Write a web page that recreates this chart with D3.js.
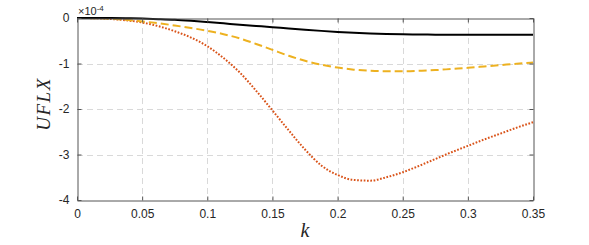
<!DOCTYPE html>
<html><head><meta charset="utf-8">
<script src="https://cdn.jsdelivr.net/npm/d3@7"></script>
<style>
html,body{margin:0;padding:0;background:#fff;}
svg{display:block;}
</style></head>
<body>
<svg id="chart" width="589" height="245"></svg>
<script>
const kValues = [0, 0.0125, 0.025, 0.0375, 0.05, 0.0625, 0.075, 0.0875, 0.1, 0.1125, 0.125, 0.1375, 0.15, 0.1625, 0.175, 0.1875, 0.2, 0.2125, 0.225, 0.2375, 0.25, 0.2625, 0.275, 0.2875, 0.3, 0.3125, 0.325, 0.3375, 0.35];
const blackSeries = [0, 0, -0.002, -0.006, -0.013, -0.025, -0.04, -0.063, -0.09, -0.118, -0.147, -0.175, -0.202, -0.23, -0.257, -0.283, -0.306, -0.325, -0.34, -0.351, -0.358, -0.363, -0.366, -0.368, -0.369, -0.37, -0.37, -0.37, -0.37];
const yellowSeries = [0, -0.003, -0.015, -0.04, -0.075, -0.115, -0.165, -0.22, -0.28, -0.355, -0.45, -0.57, -0.7, -0.83, -0.94, -1.025, -1.09, -1.135, -1.16, -1.17, -1.17, -1.16, -1.145, -1.12, -1.095, -1.065, -1.035, -1.005, -0.98];
const redSeries = [0, -0.005, -0.02, -0.05, -0.10, -0.18, -0.29, -0.43, -0.62, -0.88, -1.20, -1.60, -2.03, -2.47, -2.89, -3.24, -3.45, -3.56, -3.575, -3.50, -3.39, -3.25, -3.10, -2.95, -2.81, -2.67, -2.54, -2.41, -2.29];
const xTicks = [0, 0.05, 0.1, 0.15, 0.2, 0.25, 0.3, 0.35];
const xTickLabels = ["0", "0.05", "0.1", "0.15", "0.2", "0.25", "0.3", "0.35"];
const yTicks = [0, -1, -2, -3, -4];
const yTickLabels = ["0", "-1", "-2", "-3", "-4"];

const mLeft = 77, mRight = 533, mTop = 18, mBottom = 200;
const svg = d3.select("#chart");
const x = d3.scaleLinear().domain([0, 0.35]).range([mLeft, mRight]);
const y = d3.scaleLinear().domain([-4, 0]).range([mBottom, mTop]);

// grid
const grid = svg.append("g").attr("stroke", "#d9d9d9").attr("stroke-width", 1).attr("stroke-dasharray", "6,4").attr("fill", "none");
xTicks.slice(1, -1).forEach(t => {
  grid.append("line").attr("x1", Math.round(x(t)) + 0.5).attr("x2", Math.round(x(t)) + 0.5).attr("y1", mTop).attr("y2", mBottom);
});
yTicks.slice(1, -1).forEach(t => {
  grid.append("line").attr("y1", Math.round(y(t)) + 0.5).attr("y2", Math.round(y(t)) + 0.5).attr("x1", mLeft).attr("x2", mRight);
});

// series
const line = d3.line().x((d, i) => x(kValues[i])).y(d => y(d)).curve(d3.curveMonotoneX);
const plot = svg.append("g");
plot.append("path").datum(redSeries).attr("d", line).attr("fill", "none").attr("stroke", "#D95319").attr("stroke-width", 2).attr("stroke-dasharray", "1.7,1.6");
plot.append("path").datum(yellowSeries).attr("d", line).attr("fill", "none").attr("stroke", "#EDB120").attr("stroke-width", 2).attr("stroke-dasharray", "8,4");
plot.append("path").datum(blackSeries).attr("d", line).attr("fill", "none").attr("stroke", "#000").attr("stroke-width", 2);

// axes
const axColor = "#555";
const fontFam = "'Liberation Sans', Arial, Helvetica, sans-serif";
const xAxis = d3.axisBottom(x).tickValues(xTicks).tickFormat((d, i) => xTickLabels[i]).tickSizeInner(-4).tickSizeOuter(0).tickPadding(9);
const gx = svg.append("g").attr("transform", `translate(0,${mBottom + 0.5})`).call(xAxis);
const xTop = d3.axisTop(x).tickValues(xTicks).tickFormat("").tickSizeInner(-4).tickSizeOuter(0);
const gxt = svg.append("g").attr("transform", `translate(0,${mTop + 0.5})`).call(xTop);
const yAxis = d3.axisLeft(y).tickValues(yTicks).tickFormat((d, i) => yTickLabels[i]).tickSizeInner(-4).tickSizeOuter(0).tickPadding(8);
const gy = svg.append("g").attr("transform", `translate(${mLeft + 0.5},0)`).call(yAxis);
const yRight = d3.axisRight(y).tickValues(yTicks).tickFormat("").tickSizeInner(-4).tickSizeOuter(0);
const gyr = svg.append("g").attr("transform", `translate(${mRight + 0.5},0)`).call(yRight);
[gx, gxt, gy, gyr].forEach(g => {
  g.selectAll(".domain").attr("stroke", axColor).attr("stroke-width", 1);
  g.selectAll(".tick line").attr("stroke", axColor).attr("stroke-width", 1);
  g.selectAll("text").attr("fill", "#262626").style("font-family", fontFam).style("font-size", "12px");
});

// exponent label
const ex = svg.append("text").attr("x", mLeft + 1).attr("y", 15).attr("fill", "#262626").style("font-family", fontFam).style("font-size", "11px");
ex.append("tspan").text("×10");
ex.append("tspan").attr("dy", -4).style("font-size", "8px").text("-4");

// axis labels
svg.append("text").attr("x", x(0.175)).attr("y", 237).attr("text-anchor", "middle").attr("fill", "#262626")
  .style("font-family", "'Liberation Serif', 'Times New Roman', serif").style("font-style", "italic").style("font-size", "20px").text("k");
svg.append("text").attr("transform", `translate(50,104) rotate(-90)`).attr("text-anchor", "middle").attr("fill", "#262626")
  .style("font-family", "'Liberation Serif', 'Times New Roman', serif").style("font-style", "italic").style("font-size", "19px").style("letter-spacing", "1.5px").text("UFLX");
</script>
</body></html>
